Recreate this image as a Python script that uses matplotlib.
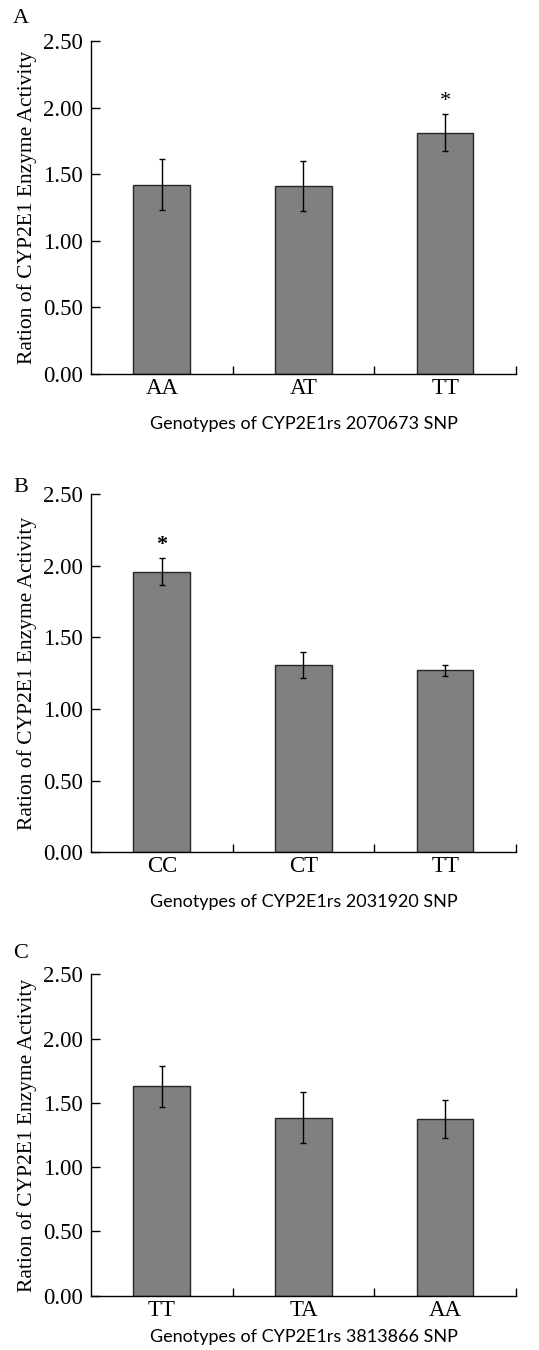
import numpy as np
import matplotlib
matplotlib.use("Agg")
import matplotlib.pyplot as plt
from matplotlib.ticker import FixedLocator

# --- DATA ---
panel_letters = ["A", "B", "C"]
genotypes_a = ["AA", "AT", "TT"]
ratio_a = [1.42, 1.41, 1.81]
err_a = [0.19, 0.19, 0.14]

genotypes_b = ["CC", "CT", "TT"]
ratio_b = [1.96, 1.31, 1.27]
err_b = [0.095, 0.09, 0.04]

genotypes_c = ["TT", "TA", "AA"]
ratio_c = [1.63, 1.385, 1.375]
err_c = [0.16, 0.20, 0.145]

snp_ids = ["2070673", "2031920", "3813866"]
stars = [(2, False), (0, True), None]   # (bar index, bold) for significance mark

yticks = [0.0, 0.5, 1.0, 1.5, 2.0, 2.5]

serif = ["Liberation Serif", "DejaVu Serif"]
sans = ["Lato", "DejaVu Sans"]

fig = plt.figure(figsize=(5.39, 13.5), dpi=100)

# axes boxes [left, bottom, width, height] in figure fractions
boxes = [
    [0.1688, 0.7230, 0.7885, 0.2467],
    [0.1688, 0.3687, 0.7885, 0.2652],
    [0.1688, 0.0402, 0.7885, 0.2380],
]
letter_y = [0.986, 0.639, 0.294]
title_pad = [12, 12, 6]

panels = [(genotypes_a, ratio_a, err_a),
          (genotypes_b, ratio_b, err_b),
          (genotypes_c, ratio_c, err_c)]

for i, (cats, vals, errs) in enumerate(panels):
    ax = fig.add_axes(boxes[i])
    x = np.arange(len(cats))
    ax.bar(x, vals, width=0.40, color="#808080", edgecolor="#262626", linewidth=1.0, zorder=2)
    ax.errorbar(x, vals, yerr=errs, fmt="none", ecolor="black", elinewidth=1.0,
                capsize=2.5, capthick=1.0, zorder=3)

    ax.set_xlim(-0.5, len(cats) - 0.5)
    ax.set_ylim(0, 2.5)
    ax.set_yticks(yticks)
    ax.set_yticklabels([f"{t:.2f}" for t in yticks], family=serif, fontsize=16.5)
    ax.set_xticks(x)
    ax.set_xticklabels(cats, family=serif, fontsize=16.5)
    ax.xaxis.set_minor_locator(FixedLocator([0.5, 1.5, 2.5]))
    ax.tick_params(axis="x", which="major", length=0, pad=3)
    ax.tick_params(axis="x", which="minor", direction="in", length=5.5, width=1.0)
    ax.tick_params(axis="y", direction="in", length=6.5, width=1.0, pad=6)

    for side in ["top", "right"]:
        ax.spines[side].set_visible(False)
    for side in ["left", "bottom"]:
        ax.spines[side].set_linewidth(1.0)

    ax.set_ylabel("Ration of CYP2E1 Enzyme Activity", family=serif, fontsize=15.5, labelpad=4)
    ax.set_xlabel(f"Genotypes of CYP2E1rs {snp_ids[i]} SNP", family=sans, fontsize=13,
                  labelpad=title_pad[i])

    if stars[i] is not None:
        idx, bold = stars[i]
        ax.annotate("*", xy=(idx, vals[idx] + errs[idx]), xytext=(0, 2), textcoords="offset points",
                    ha="center", va="bottom", family=serif, fontsize=16,
                    fontweight="bold" if bold else "normal")

    fig.text(0.024, letter_y[i], panel_letters[i], family=serif, fontsize=16, ha="left", va="center")

fig.savefig("out.png", dpi=100)
